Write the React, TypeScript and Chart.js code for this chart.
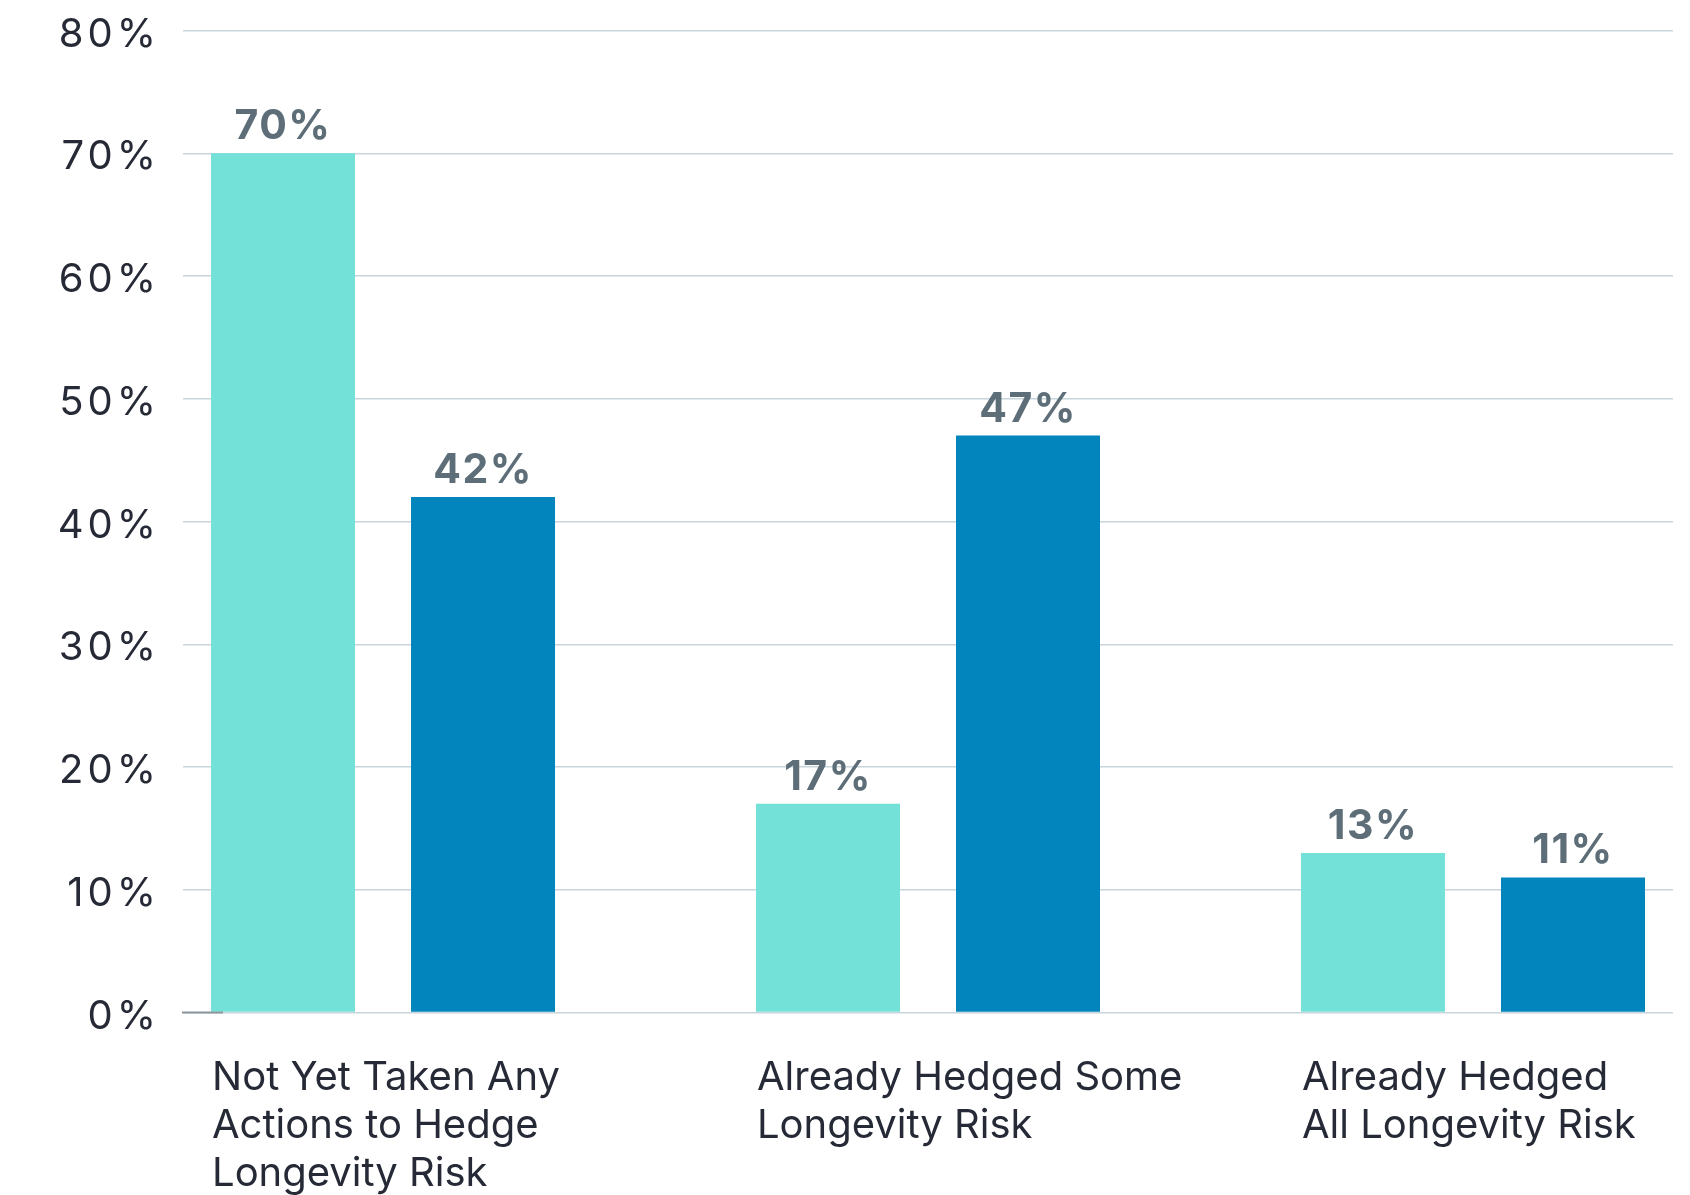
import React, { useEffect, useRef } from 'react';
import { Chart, registerables } from 'chart.js';

Chart.register(...registerables);

const categories: string[][] = [
  ['Not Yet Taken Any', 'Actions to Hedge', 'Longevity Risk'],
  ['Already Hedged Some', 'Longevity Risk'],
  ['Already Hedged', 'All Longevity Risk'],
];
const seriesA: number[] = [70, 17, 13];
const seriesB: number[] = [42, 47, 11];
const seriesNames: string[] = ['Series 1', 'Series 2'];
const yMin = 0;
const yMax = 80;
const yStep = 10;

const FONT = 'Inter, "Noto Sans", sans-serif';

const spacingPlugin = {
  id: 'spacing',
  beforeDraw(chart: any) {
    chart.ctx.letterSpacing = '4px';
  },
  beforeDatasetsDraw(chart: any) {
    chart.ctx.letterSpacing = '0px';
  },
};

const dataLabelPlugin = {
  id: 'dataLabels',
  afterDatasetsDraw(chart: any) {
    const ctx = chart.ctx;
    ctx.save();
    const y0 = chart.scales.y.getPixelForValue(0);
    ctx.strokeStyle = '#8a959c';
    ctx.lineWidth = 2;
    ctx.beginPath();
    ctx.moveTo(chart.chartArea.left - 1, y0);
    ctx.lineTo(chart.chartArea.left + 40, y0);
    ctx.stroke();

    ctx.font = `bold 41px ${FONT}`;
    ctx.fillStyle = '#5e6e78';
    ctx.textAlign = 'center';
    ctx.textBaseline = 'alphabetic';
    ctx.letterSpacing = '1.5px';
    chart.data.datasets.forEach((ds: any, di: number) => {
      const meta = chart.getDatasetMeta(di);
      meta.data.forEach((el: any, i: number) => {
        const v = ds.data[i].y;
        ctx.fillText(`${v}%`, el.x, el.y - 14);
      });
    });
    ctx.restore();
  },
};

export default function App() {
  const ref = useRef<HTMLCanvasElement | null>(null);

  useEffect(() => {
    if (!ref.current) return;
    const chart = new Chart(ref.current, {
      type: 'bar',
      data: {
        datasets: [
          {
            label: seriesNames[0],
            data: seriesA.map((v, i) => ({ x: i, y: v })),
            backgroundColor: '#74e1d8',
            borderWidth: 0,
          },
          {
            label: seriesNames[1],
            data: seriesB.map((v, i) => ({ x: i, y: v })),
            backgroundColor: '#0284bd',
            borderWidth: 0,
          },
        ],
      },
      options: {
        animation: false,
        responsive: true,
        maintainAspectRatio: false,
        categoryPercentage: 0.734,
        barPercentage: 0.72,
        layout: { padding: { left: 0, right: 17, top: 30.5, bottom: 0 } },
        plugins: {
          legend: { display: false },
          tooltip: { enabled: false },
        },
        scales: {
          x: {
            type: 'linear',
            min: -0.367,
            max: 2.367,
            offset: false,
            grid: { display: false, offset: false },
            border: { display: false },
            afterBuildTicks: (scale: any) => {
              scale.ticks = categories.map((_, i) => ({ value: i }));
            },
            afterFit: (scale: any) => {
              scale.height = 182.5;
              scale.paddingLeft = 0;
              scale.paddingRight = 0;
            },
            ticks: {
              z: 1,
              autoSkip: false,
              maxRotation: 0,
              minRotation: 0,
              align: 'start',
              labelOffset: (c: any) => (c.index === 2 ? -175 : -171),
              padding: 33,
              color: '#262a36',
              font: { family: FONT, size: 40, lineHeight: 1.2 },
              callback: (value: any) => categories[Math.round(Number(value))] ?? '',
            },
          },
          y: {
            min: yMin,
            max: yMax,
            grid: {
              color: '#c8d6db',
              lineWidth: 1.5,
              drawTicks: false,
            },
            border: { display: false },
            afterFit: (scale: any) => {
              scale.width = 183;
              scale.paddingTop = 0;
              scale.paddingBottom = 0;
            },
            ticks: {
              stepSize: yStep,
              padding: 23,
              labelOffset: 4,
              color: '#262a36',
              font: { family: FONT, size: 40 },
              callback: (value: any) => `${value}%`,
            },
          },
        },
      } as any,
      plugins: [spacingPlugin, dataLabelPlugin],
    });
    return () => chart.destroy();
  }, []);

  return (
    <div style={{ position: 'absolute', left: 0, top: 0, width: 1690, height: 1195, background: '#fff' }}>
      <canvas ref={ref} />
    </div>
  );
}
